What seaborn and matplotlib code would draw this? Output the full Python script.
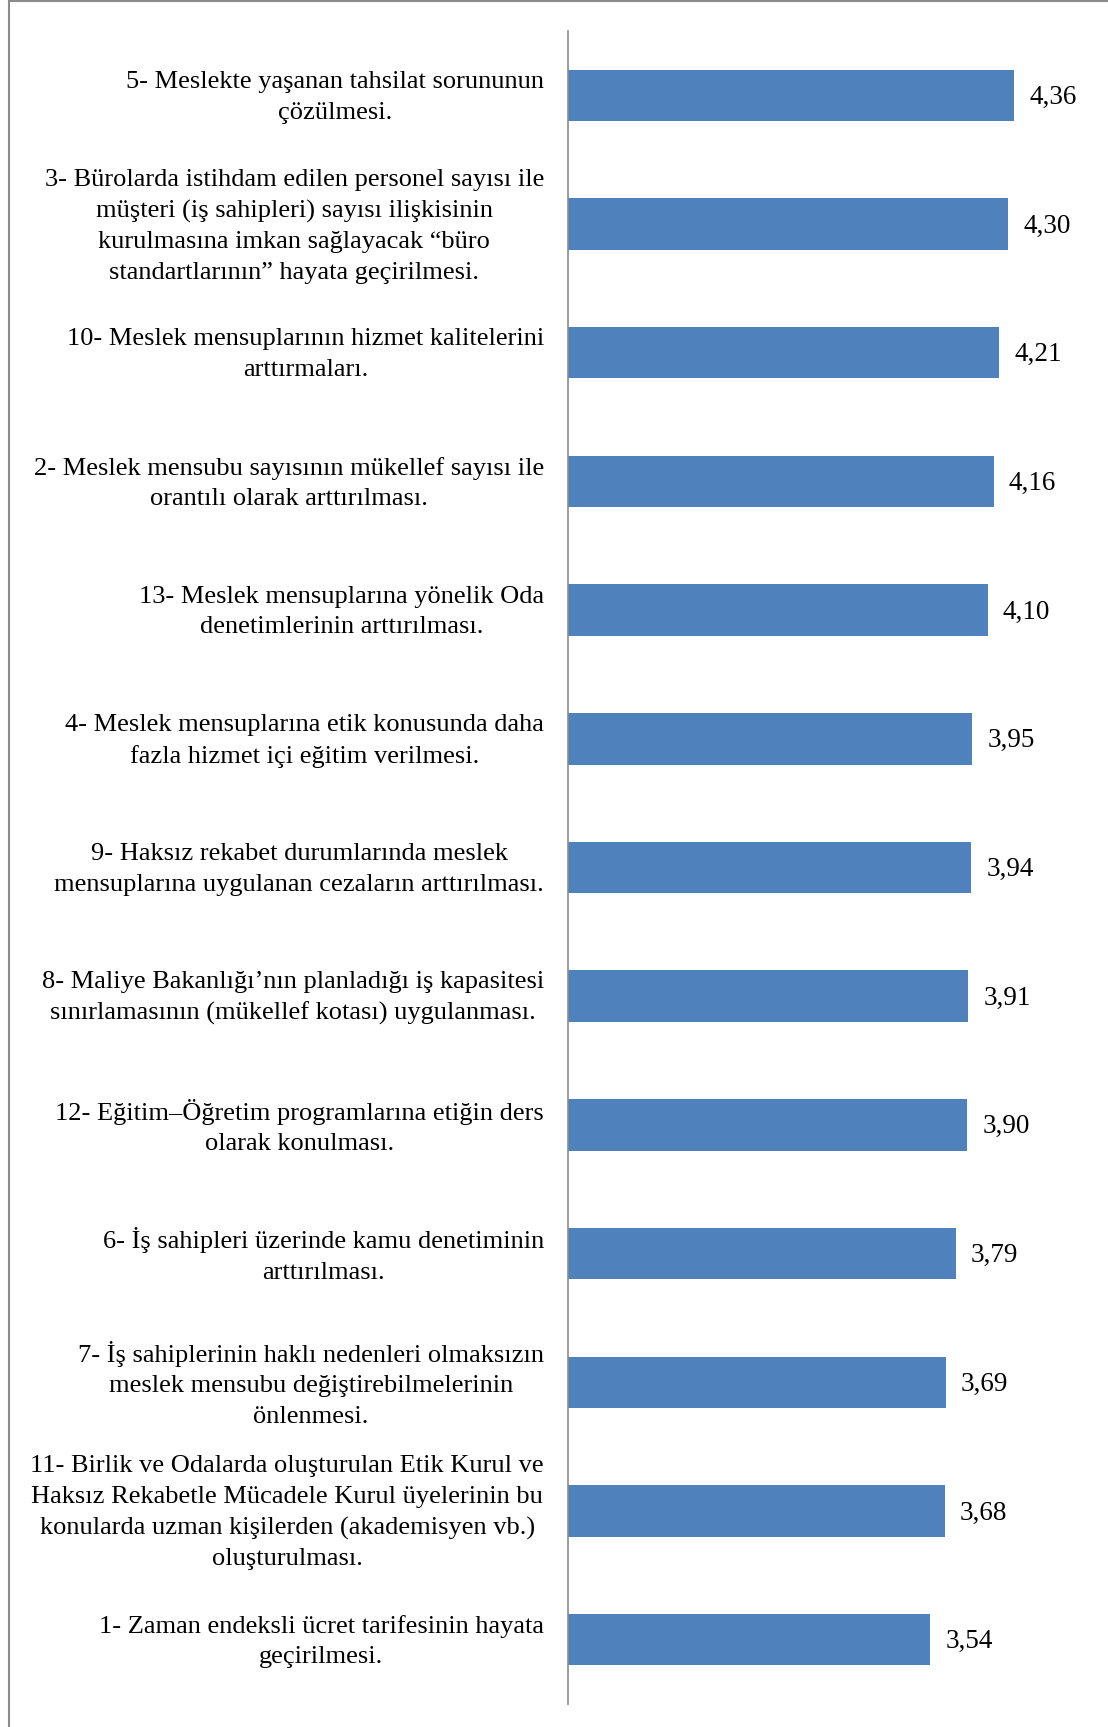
import matplotlib
matplotlib.use("Agg")
import matplotlib.pyplot as plt
import seaborn as sns
import pandas as pd
from matplotlib.lines import Line2D

labels = [
    "5- Meslekte yaşanan tahsilat sorununun\nçözülmesi.",
    "3- Bürolarda istihdam edilen personel sayısı ile\nmüşteri (iş sahipleri) sayısı ilişkisinin\nkurulmasına imkan sağlayacak “büro\nstandartlarının” hayata geçirilmesi.",
    "10- Meslek mensuplarının hizmet kalitelerini\narttırmaları.",
    "2- Meslek mensubu sayısının mükellef sayısı ile\norantılı olarak arttırılması.",
    "13- Meslek mensuplarına yönelik Oda\ndenetimlerinin arttırılması.",
    "4- Meslek mensuplarına etik konusunda daha\nfazla hizmet içi eğitim verilmesi.",
    "9- Haksız rekabet durumlarında meslek\nmensuplarına uygulanan cezaların arttırılması.",
    "8- Maliye Bakanlığı’nın planladığı iş kapasitesi\nsınırlamasının (mükellef kotası) uygulanması.",
    "12- Eğitim–Öğretim programlarına etiğin ders\nolarak konulması.",
    "6- İş sahipleri üzerinde kamu denetiminin\narttırılması.",
    "7- İş sahiplerinin haklı nedenleri olmaksızın\nmeslek mensubu değiştirebilmelerinin\nönlenmesi.",
    "11- Birlik ve Odalarda oluşturulan Etik Kurul ve\nHaksız Rekabetle Mücadele Kurul üyelerinin bu\nkonularda uzman kişilerden (akademisyen vb.)\noluşturulması.",
    "1- Zaman endeksli ücret tarifesinin hayata\ngeçirilmesi.",
]
values = [4.36, 4.30, 4.21, 4.16, 4.10, 3.95, 3.94, 3.91, 3.90, 3.79, 3.69, 3.68, 3.54]
value_labels = ["4,36", "4,30", "4,21", "4,16", "4,10", "3,95", "3,94", "3,91", "3,90",
                "3,79", "3,69", "3,68", "3,54"]

sns.set_style("white")
plt.rcParams['font.family'] = ['Liberation Serif', 'DejaVu Serif']

W, H = 1108, 1727
fig = plt.figure(figsize=(W / 100, H / 100), dpi=100)
ax = fig.add_axes([568 / W, 23 / H, (1080 - 568) / W, (1704 - 31) / H])

df = pd.DataFrame({"label": labels, "value": values})
sns.barplot(data=df, x="value", y="label", orient="h", color="#4f81bd",
            saturation=1, width=0.40, edgecolor="none", ax=ax)

ax.set_xlim(0, 5)
ax.set_ylim(12.5, -0.5)
ax.set_xlabel("")
ax.set_ylabel("")
ax.set_xticks([])
ax.tick_params(axis="y", length=0, labelleft=False)
for s in ["top", "right", "bottom"]:
    ax.spines[s].set_visible(False)
ax.spines["left"].set_color("#8c8c8c")
ax.spines["left"].set_linewidth(1.2)

for i, lbl in enumerate(labels):
    ax.annotate(lbl, xy=(0, i), xycoords=("axes fraction", "data"),
                xytext=(-24, -2), textcoords="offset pixels",
                ha="right", va="center", ma="center", linespacing=1.5,
                fontsize=19, color="black")

for i, (v, vl) in enumerate(zip(values, value_labels)):
    ax.annotate(vl, xy=(v, i), xytext=(15, -2), textcoords="offset pixels",
                ha="left", va="center", fontsize=19.5, color="black")

# figure frame (top & left lines)
fig.add_artist(Line2D([8.5 / W, 8.5 / W], [0, 1], transform=fig.transFigure,
                      color="#8c8c8c", lw=1.5))
fig.add_artist(Line2D([8.5 / W, 1], [1 - 1 / H, 1 - 1 / H], transform=fig.transFigure,
                      color="#8c8c8c", lw=1.5))

fig.savefig("out.png", dpi=100)
